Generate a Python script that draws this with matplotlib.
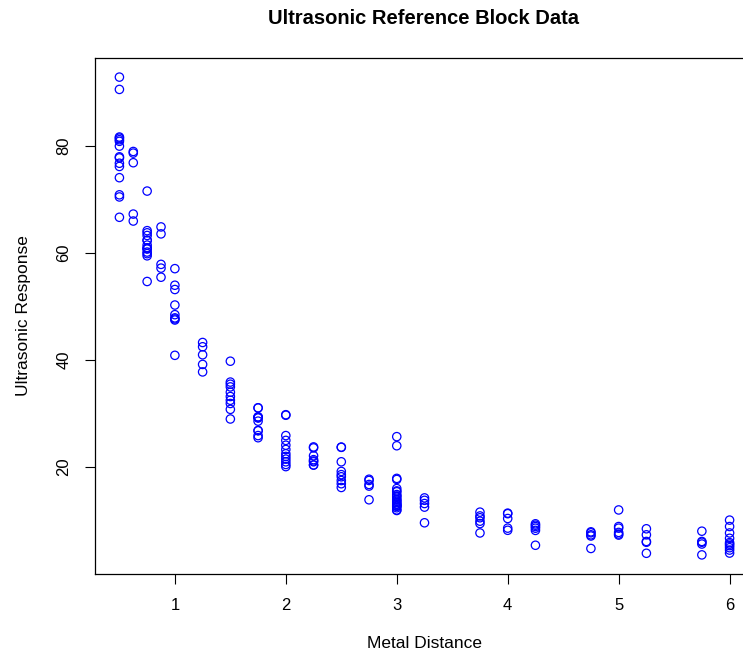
import numpy as np
import matplotlib.pyplot as plt

plt.rcParams['font.family'] = ['Liberation Sans', 'DejaVu Sans']

# metal distance levels and the ultrasonic responses read at each level
distance = [0.5, 0.625, 0.75, 0.875, 1.0, 1.25, 1.5, 1.75, 2.0, 2.25, 2.5,
            2.75, 3.0, 3.25, 3.75, 4.0, 4.25, 4.75, 5.0, 5.25, 5.75, 6.0]
response = [
    [92.9, 90.6, 81.7, 81.5, 81.2, 80.9, 80.0, 78.0, 77.8, 76.8, 76.2, 74.1, 70.9, 70.5, 66.7],
    [78.7, 79.0, 76.9, 67.3, 66.0],
    [71.6, 64.2, 63.8, 63.3, 62.4, 62.4, 61.5, 61.0, 60.8, 60.8, 60.2, 59.9, 59.5, 54.7],
    [64.9, 63.6, 57.9, 57.2, 55.5],
    [57.1, 54.0, 53.2, 50.3, 48.5, 47.9, 47.7, 47.5, 40.9],
    [43.3, 42.5, 41.0, 39.2, 37.8],
    [39.8, 35.9, 35.5, 35.0, 34.0, 33.2, 32.5, 31.9, 30.8, 29.0],
    [31.1, 31.05, 29.4, 29.36, 29.3, 29.18, 28.6, 26.85, 26.8, 25.9, 25.5],
    [29.8, 29.7, 25.9, 25.0, 24.1, 23.3, 22.5, 22.0, 21.5, 21.0, 20.5, 20.1],
    [23.78, 23.6, 22.13, 21.4, 21.15, 21.0, 20.4, 20.4],
    [23.75, 23.7, 21.0, 19.2, 18.6, 18.2, 17.5, 16.9, 16.2],
    [17.74, 17.51, 16.76, 16.46, 13.9],
    [25.7, 24.0, 17.9, 17.7, 16.0, 15.56, 15.4, 14.88, 14.62, 14.4, 14.01, 13.84,
     13.6, 13.4, 13.12, 13.03, 12.81, 12.75, 12.67, 12.41, 12.0, 11.9],
    [14.25, 13.8, 13.2, 12.53, 9.6],
    [11.59, 10.88, 10.54, 9.9, 9.45, 7.7],
    [11.4, 11.3, 10.4, 8.6, 8.2],
    [9.41, 9.15, 8.9, 8.59, 8.18, 5.4],
    [7.91, 7.73, 7.35, 7.13, 4.8],
    [12.0, 8.9, 8.6, 7.8, 7.5, 7.3],
    [8.48, 7.35, 6.11, 5.96, 3.9],
    [8.03, 6.11, 5.96, 5.63, 3.6],
    [10.1, 8.9, 7.7, 6.7, 5.9, 5.63, 5.33, 4.94, 4.5, 3.94],
]

x = np.repeat(distance, [len(r) for r in response])
y = np.concatenate(response)

fig = plt.figure(figsize=(7.43, 6.52), dpi=100)
ax = fig.add_axes([95 / 743, 78 / 652, 659 / 743, 516 / 652])

ax.scatter(x, y, s=36, facecolors='none', edgecolors='blue', linewidths=0.9)

# R-style 4% padding around the data range
xr = x.max() - x.min()
yr = y.max() - y.min()
ax.set_xlim(x.min() - 0.04 * xr, x.max() + 0.04 * xr)
ax.set_ylim(y.min() - 0.04 * yr, y.max() + 0.04 * yr)

ax.set_xticks([1, 2, 3, 4, 5, 6])
ax.set_yticks([20, 40, 60, 80])
ax.tick_params(direction='out', length=7, width=0.8, labelsize=12, pad=10)
for lab in ax.get_yticklabels():
    lab.set_rotation(90)
    lab.set_va('center')

for s in ax.spines.values():
    s.set_linewidth(0.9)

ax.set_xlabel('Metal Distance', fontsize=12.5, labelpad=17)
ax.set_ylabel('Ultrasonic Response', fontsize=12.5, labelpad=18.5)
fig.text(424 / 743, 1 - 18.5 / 652, 'Ultrasonic Reference Block Data',
         ha='center', va='center', fontsize=14.5, fontweight='bold')

fig.savefig('out.png', dpi=100)
